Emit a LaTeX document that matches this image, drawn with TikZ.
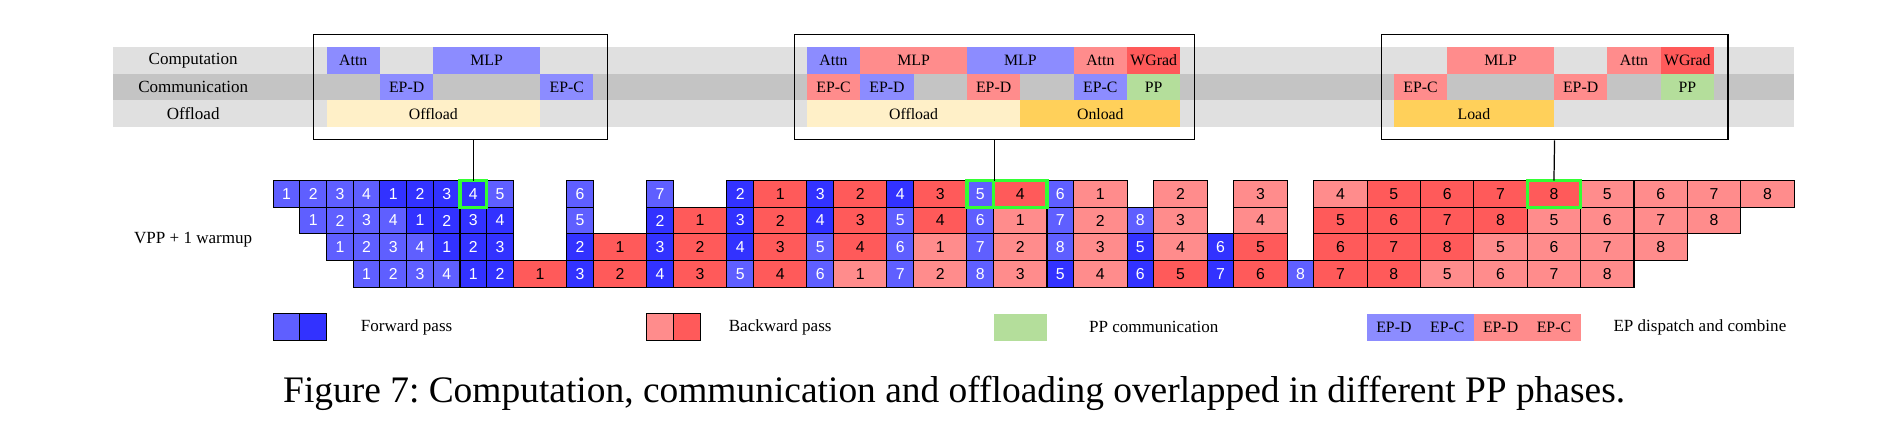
\documentclass[tikz,border=0pt]{standalone}
\usepackage{fontspec}
\setmainfont{Liberation Serif}
\setsansfont{Liberation Sans}
\usepackage{tikz}
\frenchspacing
\definecolor{cFwdA}{HTML}{5F5FFF}
\definecolor{cFwdB}{HTML}{3232FF}
\definecolor{cBwdA}{HTML}{FF8C8C}
\definecolor{cBwdB}{HTML}{FF5A5A}
\definecolor{cTagBlue}{HTML}{8C8CFF}
\definecolor{cTagRed}{HTML}{FF8C8C}
\definecolor{cWGrad}{HTML}{FF5A5A}
\definecolor{cPP}{HTML}{B4DE9B}
\definecolor{cOff}{HTML}{FFF0C8}
\definecolor{cOn}{HTML}{FFD05A}
\definecolor{cBandA}{HTML}{E0E0E0}
\definecolor{cBandB}{HTML}{C4C4C4}
\definecolor{cHl}{HTML}{33FF33}
\newcommand{\cu}{0.5336cm}
\tikzset{
cell/.style={draw, line width=0.6pt, inner sep=0pt, outer sep=0pt, anchor=north west,
  minimum height=\cu, font=\sffamily\fontsize{9pt}{10pt}\selectfont},
fwdlight/.style={cell, fill=cFwdA, text=white},
fwddark/.style={cell, fill=cFwdB, text=white},
bwdlight/.style={cell, fill=cBwdA},
bwddark/.style={cell, fill=cBwdB},
tag/.style={inner sep=0pt, outer sep=0pt, anchor=north west, minimum height=\cu,
  font=\fontsize{9pt}{10pt}\selectfont},
lbl/.style={inner sep=0pt, font=\fontsize{9.7pt}{11pt}\selectfont},
zoombox/.style={draw, line width=0.7pt, inner sep=0pt, anchor=south west},
hl/.style={draw=cHl, line width=1.8pt},
link/.style={line width=0.7pt}
}
\begin{document}
\begin{tikzpicture}[x=\cu, y=\cu]
  \useasboundingbox (-10.24,6.765) rectangle (60.22,-9.65);
  \fill[cBandA] (-6,5) rectangle (57,4);
  \fill[cBandB] (-6,4) rectangle (57,3);
  \fill[cBandA] (-6,3) rectangle (57,2);
  \node[lbl] (rcomp) at (-3,4.5) {Computation};
  \node[lbl] (rcomm) at (-3,3.5) {Communication};
  \node[lbl] (roff) at (-3,2.5) {Offload};
  \foreach \x/\y/\w/\c/\t in {2/5/2/cTagBlue/Attn, 6/5/4/cTagBlue/MLP, 4/4/2/cTagBlue/EP-D,
    10/4/2/cTagBlue/EP-C, 2/3/8/cOff/Offload,
    20/5/2/cTagBlue/Attn, 22/5/4/cTagRed/MLP, 26/5/4/cTagBlue/MLP, 30/5/2/cTagRed/Attn,
    32/5/2/cWGrad/WGrad, 20/4/2/cTagRed/EP-C, 22/4/2/cTagBlue/EP-D, 26/4/2/cTagRed/EP-D,
    30/4/2/cTagBlue/EP-C, 32/4/2/cPP/PP, 20/3/8/cOff/Offload, 28/3/6/cOn/Onload,
    44/5/4/cTagRed/MLP, 50/5/2/cTagRed/Attn, 52/5/2/cWGrad/WGrad, 42/4/2/cTagRed/EP-C,
    48/4/2/cTagRed/EP-D, 52/4/2/cPP/PP, 42/3/6/cOn/Load}
    \node[tag, fill=\c, minimum width=\w*\cu] (p\x-\y) at (\x,\y) {\t};
  \node[zoombox, minimum width=11*\cu, minimum height=3.95*\cu] (box1) at (1.5,1.5) {};
  \node[zoombox, minimum width=15*\cu, minimum height=3.95*\cu] (box2) at (19.5,1.5) {};
  \node[zoombox, minimum width=13*\cu, minimum height=3.95*\cu] (box3) at (41.5,1.5) {};
  \node[lbl] (vpp) at (-3,-2.2) {VPP + 1 warmup};
  \foreach \r/\cells in {
    0/{0/1/fwdlight/1, 1/1/fwdlight/2, 2/1/fwdlight/3, 3/1/fwdlight/4, 4/1/fwddark/1,
      5/1/fwddark/2, 6/1/fwddark/3, 7/1/fwddark/4, 8/1/fwdlight/5, 11/1/fwdlight/6,
      14/1/fwdlight/7, 17/1/fwddark/2, 18/2/bwddark/1, 20/1/fwddark/3, 21/2/bwddark/2,
      23/1/fwddark/4, 24/2/bwddark/3, 26/1/fwdlight/5, 27/2/bwddark/4, 29/1/fwdlight/6,
      30/2/bwdlight/1, 33/2/bwdlight/2, 36/2/bwdlight/3, 39/2/bwdlight/4, 41/2/bwddark/5,
      43/2/bwddark/6, 45/2/bwddark/7, 47/2/bwddark/8, 49/2/bwdlight/5, 51/2/bwdlight/6,
      53/2/bwdlight/7, 55/2/bwdlight/8},
    1/{1/1/fwdlight/1, 2/1/fwdlight/2, 3/1/fwdlight/3, 4/1/fwdlight/4, 5/1/fwddark/1,
      6/1/fwddark/2, 7/1/fwddark/3, 8/1/fwddark/4, 11/1/fwdlight/5, 14/1/fwddark/2,
      15/2/bwddark/1, 17/1/fwddark/3, 18/2/bwddark/2, 20/1/fwddark/4, 21/2/bwddark/3,
      23/1/fwdlight/5, 24/2/bwddark/4, 26/1/fwdlight/6, 27/2/bwdlight/1, 29/1/fwdlight/7,
      30/2/bwdlight/2, 32/1/fwdlight/8, 33/2/bwdlight/3, 36/2/bwdlight/4, 39/2/bwddark/5,
      41/2/bwddark/6, 43/2/bwddark/7, 45/2/bwddark/8, 47/2/bwdlight/5, 49/2/bwdlight/6,
      51/2/bwdlight/7, 53/2/bwdlight/8},
    2/{2/1/fwdlight/1, 3/1/fwdlight/2, 4/1/fwdlight/3, 5/1/fwdlight/4, 6/1/fwddark/1,
      7/1/fwddark/2, 8/1/fwddark/3, 11/1/fwddark/2, 12/2/bwddark/1, 14/1/fwddark/3,
      15/2/bwddark/2, 17/1/fwddark/4, 18/2/bwddark/3, 20/1/fwdlight/5, 21/2/bwddark/4,
      23/1/fwdlight/6, 24/2/bwdlight/1, 26/1/fwdlight/7, 27/2/bwdlight/2, 29/1/fwdlight/8,
      30/2/bwdlight/3, 32/1/fwddark/5, 33/2/bwdlight/4, 35/1/fwddark/6, 36/2/bwddark/5,
      39/2/bwddark/6, 41/2/bwddark/7, 43/2/bwddark/8, 45/2/bwdlight/5, 47/2/bwdlight/6,
      49/2/bwdlight/7, 51/2/bwdlight/8},
    3/{3/1/fwdlight/1, 4/1/fwdlight/2, 5/1/fwdlight/3, 6/1/fwdlight/4, 7/1/fwddark/1,
      8/1/fwddark/2, 9/2/bwddark/1, 11/1/fwddark/3, 12/2/bwddark/2, 14/1/fwddark/4,
      15/2/bwddark/3, 17/1/fwdlight/5, 18/2/bwddark/4, 20/1/fwdlight/6, 21/2/bwdlight/1,
      23/1/fwdlight/7, 24/2/bwdlight/2, 26/1/fwdlight/8, 27/2/bwdlight/3, 29/1/fwddark/5,
      30/2/bwdlight/4, 32/1/fwddark/6, 33/2/bwddark/5, 35/1/fwddark/7, 36/2/bwddark/6,
      38/1/fwdlight/8, 39/2/bwddark/7, 41/2/bwddark/8, 43/2/bwdlight/5, 45/2/bwdlight/6,
      47/2/bwdlight/7, 49/2/bwdlight/8}}
    \foreach \t/\w/\s/\l in \cells
      \node[\s, minimum width=\w*\cu] (c\r-\t) at (\t,-\r) {\l};
  \draw[hl] (c0-7.north west) rectangle (c0-7.south east);
  \draw[hl] (c0-26.north west) rectangle (c0-26.south east);
  \draw[hl] (c0-27.north west) rectangle (c0-27.south east);
  \draw[hl] (c0-47.north west) rectangle (c0-47.south east);
  \draw[link] (c0-7.north) -- (c0-7.north |- box1.south);
  \draw[link] (box2.south) -- (box2.south |- c0-27.north);
  \draw[link] (box3.south) -- (c0-47.north);
  \node[fwdlight, minimum width=\cu] (lgf1) at (0,-5) {};
  \node[fwddark, minimum width=\cu] (lgf2) at (1,-5) {};
  \node[lbl] (lgft) at (5,-5.5) {Forward pass};
  \node[bwdlight, minimum width=\cu] (lgb1) at (14,-5) {};
  \node[bwddark, minimum width=\cu] (lgb2) at (15,-5) {};
  \node[lbl] (lgbt) at (19,-5.5) {Backward pass};
  \node[tag, fill=cPP, minimum width=2*\cu] (lgpp) at (27,-5) {};
  \node[lbl] (lgppt) at (33,-5.5) {PP communication};
  \node[tag, fill=cTagBlue, minimum width=2*\cu] (lge1) at (41,-5) {EP-D};
  \node[tag, fill=cTagBlue, minimum width=2*\cu] (lge2) at (43,-5) {EP-C};
  \node[tag, fill=cTagRed, minimum width=2*\cu] (lge3) at (45,-5) {EP-D};
  \node[tag, fill=cTagRed, minimum width=2*\cu] (lge4) at (47,-5) {EP-C};
  \node[lbl] (lget) at (53.47,-5.5) {EP dispatch and combine};
  \node[anchor=base, inner sep=0pt, font=\fontsize{21.3pt}{25pt}\selectfont] (cap) at (25.52,-8.31)
    {Figure 7: Computation, communication and offloading overlapped in different PP phases.};
\end{tikzpicture}
\end{document}
